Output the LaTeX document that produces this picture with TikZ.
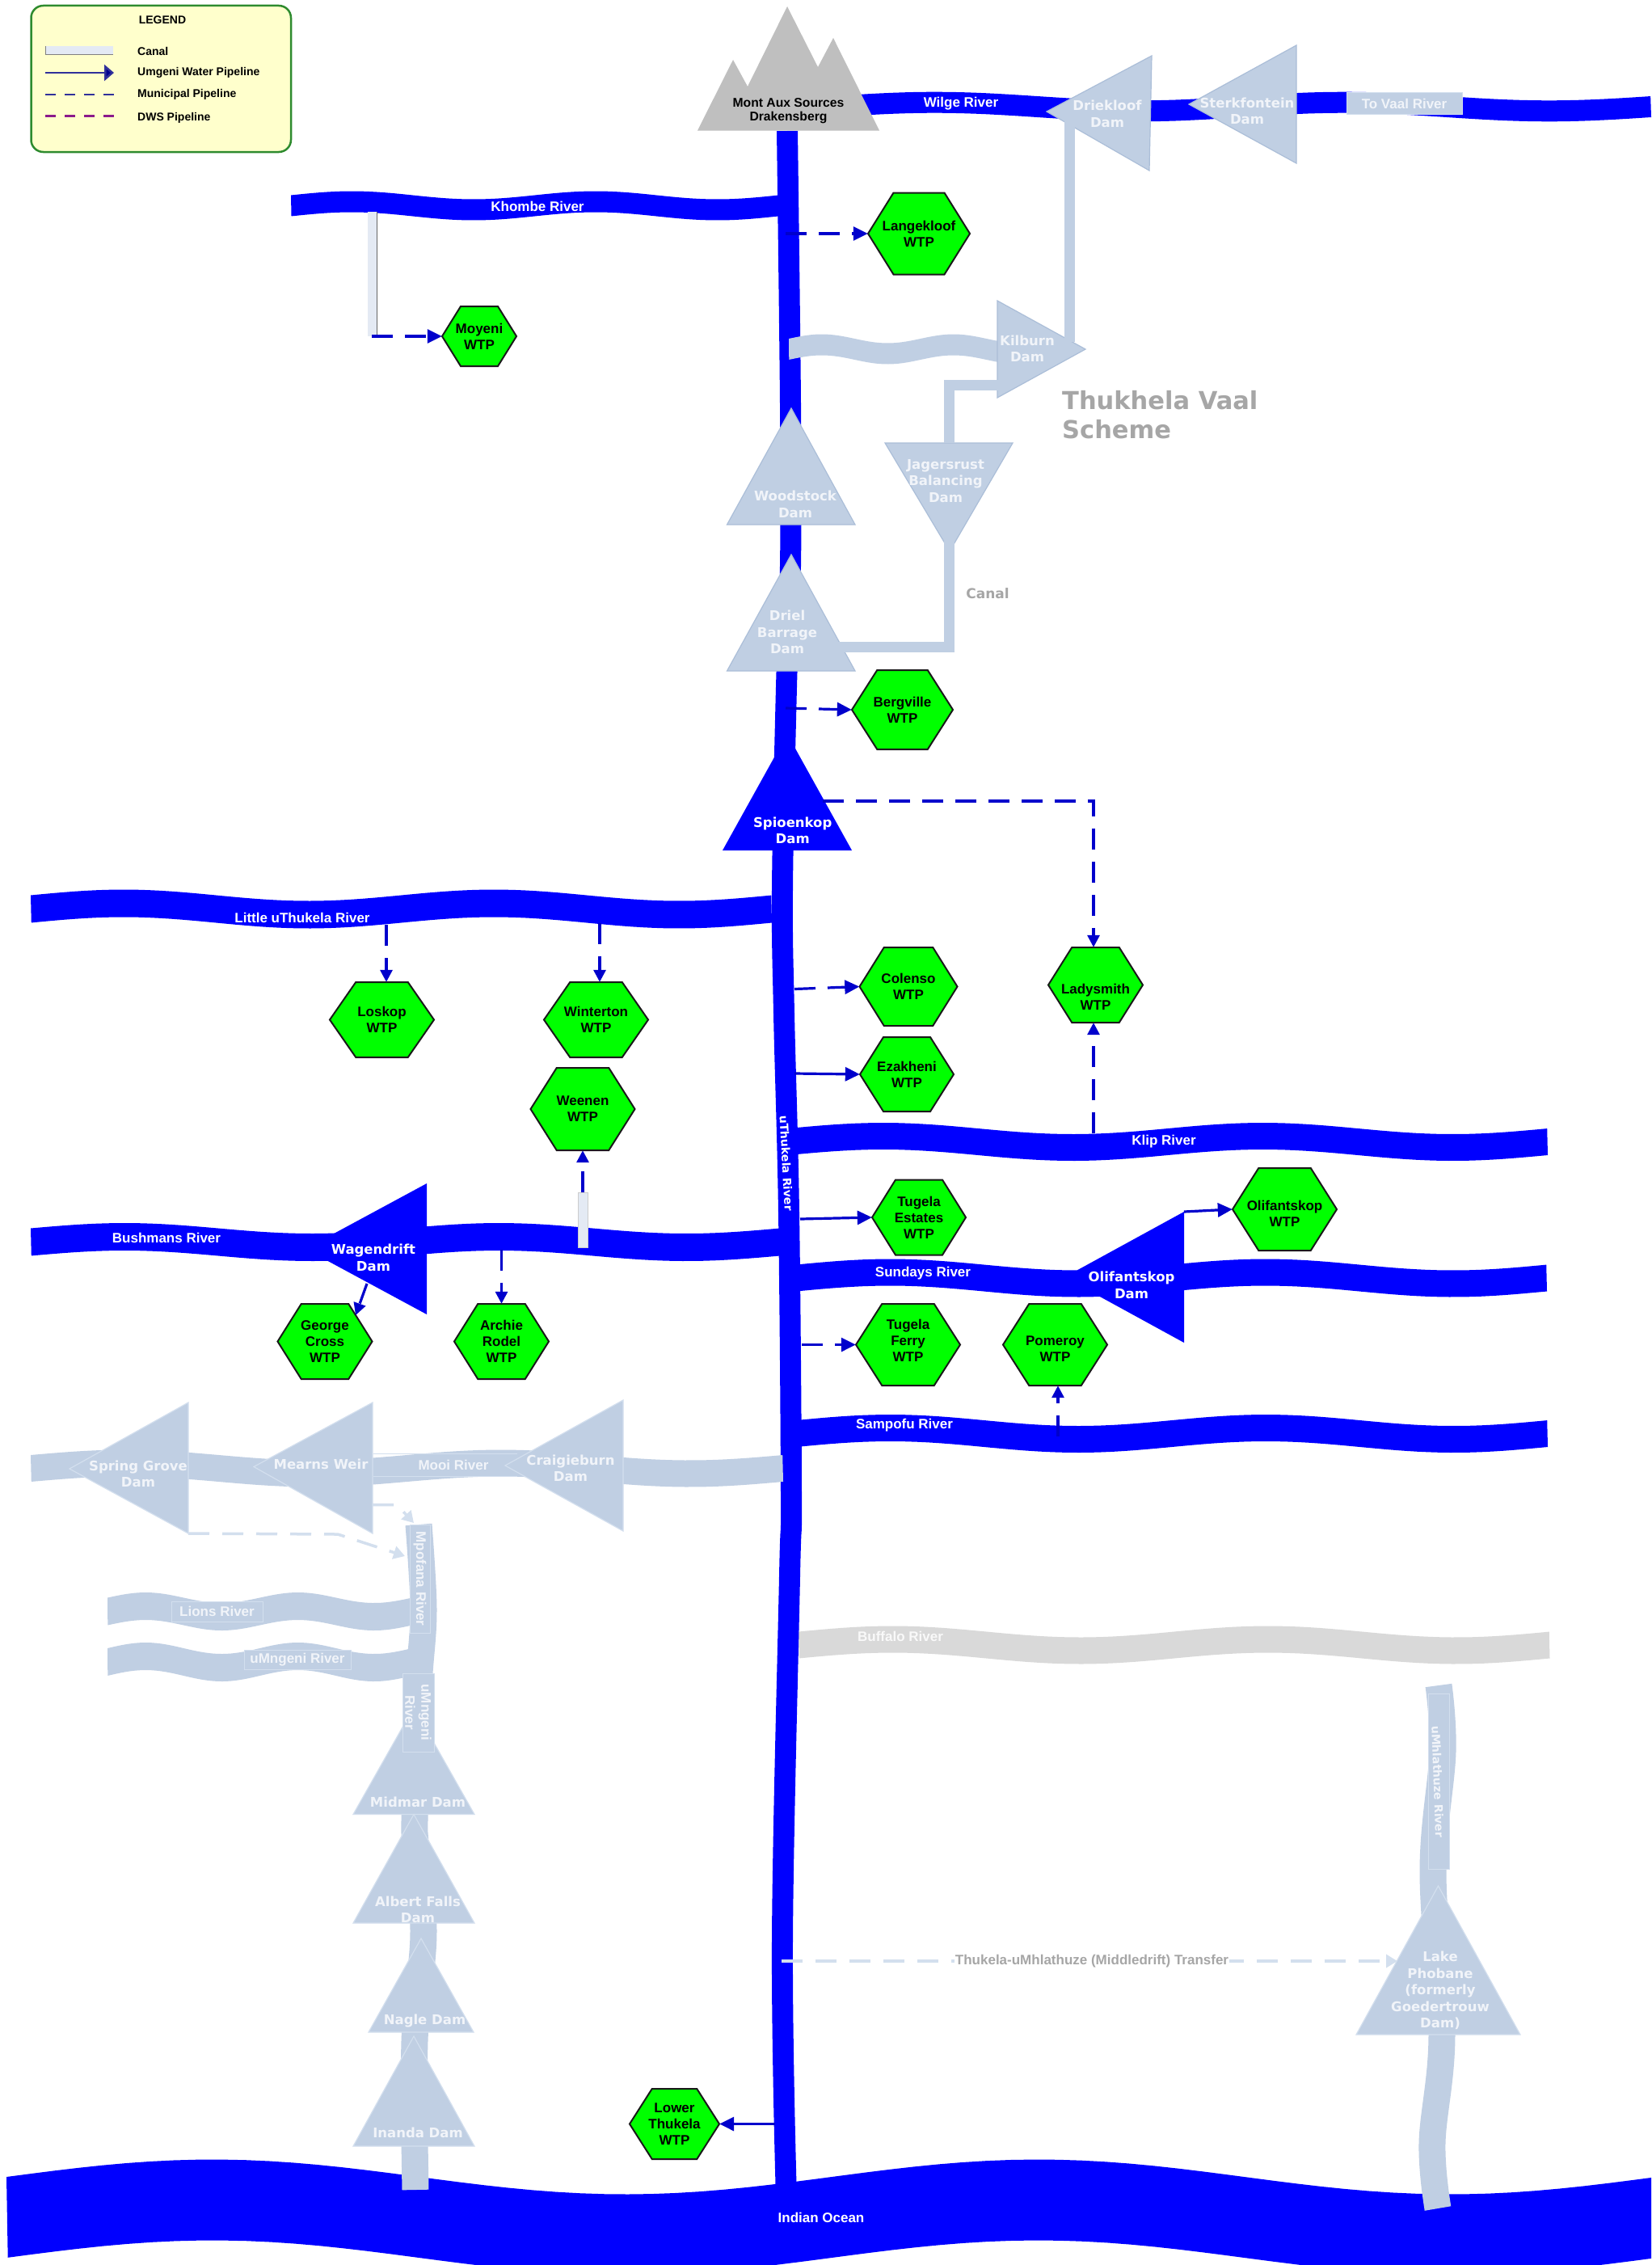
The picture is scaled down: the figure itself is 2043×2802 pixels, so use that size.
\documentclass[tikz,border=0pt]{standalone}
\usepackage{fontspec}
\setmainfont{Liberation Sans}
\newfontfamily\damfont{DejaVu Sans}
\usetikzlibrary{arrows.meta}
\definecolor{riverblue}{HTML}{0000FF}
\definecolor{faded}{HTML}{C0CFE3}
\definecolor{fadededge}{HTML}{ABBED8}
\definecolor{fadedline}{HTML}{D3DFEE}
\definecolor{fadedtext}{HTML}{F1F4F9}
\definecolor{pipeblue}{HTML}{0000CC}
\definecolor{hexgreen}{HTML}{00FF00}
\definecolor{mtgray}{HTML}{BFBFBF}
\definecolor{labelgray}{HTML}{A6A6A6}
\definecolor{buffalo}{HTML}{D9D9D9}
\definecolor{canalfill}{HTML}{E4EAF4}
\definecolor{legendfill}{HTML}{FFFFCC}
\definecolor{legendedge}{HTML}{2E8B2E}
\definecolor{legendline}{HTML}{30309A}
\definecolor{dwsline}{HTML}{8B1A8B}
\tikzset{
  solidpipe/.style={draw=pipeblue,line width=3.2pt,-{Triangle[length=18pt,width=17pt]}},
  dashpipe/.style={solidpipe,dash pattern=on 26pt off 15pt},
  vtip/.style={-{Triangle[length=15pt,width=15pt]}},
  fadedpipe/.style={draw=fadedline,fill=none,line width=3.5pt,dash pattern=on 26pt off 16pt,-{Triangle[length=14pt,width=16pt]}},
  hexshape/.style={draw=black!90,line width=2pt,fill=hexgreen,line join=miter},
  hextext/.style={inner sep=0pt,align=center,text=black,font=\fontsize{17}{20}\selectfont\bfseries},
  damshape/.style={fill=faded,draw=fadededge,line width=1.2pt,line join=miter},
  damlight/.style={fill=faded,draw=fadedline,line width=1.2pt,line join=miter},
  blueshape/.style={fill=riverblue},
  damtext/.style={inner sep=0pt,align=center,text=fadedtext,font=\damfont\fontsize{16.5}{20.5}\selectfont\bfseries},
  bluedamtext/.style={inner sep=0pt,align=center,text=white,font=\damfont\fontsize{16.5}{20.5}\selectfont\bfseries},
  rivertext/.style={inner sep=0pt,align=center,text=white,font=\fontsize{17}{19}\selectfont\bfseries},
  fadedlabel/.style={inner sep=0pt,align=center,text=fadedtext,font=\fontsize{17}{20}\selectfont\bfseries},
  boxlabel/.style={draw=fadedline,line width=1pt,fill=faded,inner sep=0pt,align=center,text=fadedtext,font=\fontsize{17}{20}\selectfont\bfseries},
  canalline/.style={draw=faded,line width=13pt,line join=miter},
  legendtext/.style={inner sep=0pt,anchor=west,text=black,font=\fontsize{14}{15}\selectfont\bfseries},
  graytext/.style={inner sep=0pt,text=labelgray,font=\bfseries},
}
\newcommand{\wavyriver}[6]{%
  \fill[#6] plot[domain=0:1,samples=70,variable=\t] ({#1+(#2-#1)*\t},{#3-#4*sin(720*\t)-#5/2})
    -- plot[domain=1:0,samples=70,variable=\t] ({#1+(#2-#1)*\t},{#3-#4*sin(720*\t)+#5/2}) -- cycle;}
% optional first argument: vertical offset of the text inside the hexagon
\newcommand{\hexnode}[7][0]{%
  \draw[hexshape] ({#3-#5/2},#4) -- ({#3-#5/4},{#4-#6/2}) -- ({#3+#5/4},{#4-#6/2})
    -- ({#3+#5/2},#4) -- ({#3+#5/4},{#4+#6/2}) -- ({#3-#5/4},{#4+#6/2}) -- cycle;
  \node[minimum width=#5pt,minimum height=#6pt,inner sep=0pt] (#2) at (#3,#4) {};
  \node[hextext] (#2-text) at (#3,{#4+#1}) {#7};}
\begin{document}
\begin{tikzpicture}[x=1pt,y=-1pt]
\clip (0,0) rectangle (2043,2802);
\fill[white] (0,0) rectangle (2043,2802);

% ---------- legend
\draw[fill=legendfill,draw=legendedge,line width=2.5pt,rounded corners=15pt] (38.5,7) rectangle (360,188);
\node[inner sep=0pt,font=\fontsize{14}{15}\selectfont\bfseries] (legendtitle) at (201,25) {LEGEND};
\draw[fill=canalfill,draw=none] (56,57) rectangle (140,68);
\draw[gray,line width=1pt] (56,57) -- (56,68) -- (140,68);
\node[legendtext] (lcanal) at (170,63) {Canal};
\coordinate (la1) at (56,90); \coordinate (la2) at (141,90);
\draw[draw=legendline,line width=2.5pt,-{Triangle[length=12pt,width=20pt,fill=pipeblue!70!black]}] (la1) -- (la2);
\node[legendtext] (lumgeni) at (170,90) {Umgeni Water Pipeline};
\coordinate (lb1) at (56,117); \coordinate (lb2) at (141,117);
\draw[draw=legendline,line width=2.5pt,dash pattern=on 13pt off 11pt] (lb1) -- (lb2);
\node[legendtext] (lmuni) at (170,117) {Municipal Pipeline};
\coordinate (lc1) at (56,143.5); \coordinate (lc2) at (141,143.5);
\draw[draw=dwsline,line width=2.5pt,dash pattern=on 13pt off 11pt] (lc1) -- (lc2);
\node[legendtext] (ldws) at (170,146) {DWS Pipeline};

% ---------- ocean
\wavyriver{8}{2050}{2743}{21.5}{100}{riverblue}

% ---------- blue rivers
\wavyriver{360}{963}{254.5}{5}{26}{riverblue}
\wavyriver{1030}{2043}{132}{5.3}{26}{riverblue}
\wavyriver{38}{955}{1124.5}{7}{34}{riverblue}
\wavyriver{38}{965}{1536.5}{6.5}{34}{riverblue}
\wavyriver{975}{1915}{1412.5}{7}{33}{riverblue}
\wavyriver{985}{1914}{1581}{7}{33}{riverblue}
\wavyriver{985}{1915}{1773.5}{7}{33}{riverblue}
\wavyriver{988}{1917.5}{2035}{7}{33}{buffalo}

% ---------- uThukela
\draw[riverblue,line width=26pt] plot[smooth,tension=0.6] coordinates {(974,162) (978,500) (978,700) (973,850) (968,1100) (970,1254) (976,1500) (979,1850) (977,1950) (968,2400) (973,2720)};

% ---------- faded rivers
\wavyriver{976}{1302}{432}{5.5}{26}{faded}
\wavyriver{38}{969}{1816.5}{6.5}{33}{faded}
\wavyriver{133}{510}{1993.5}{6.5}{34}{faded}
\wavyriver{133}{510}{2056}{7}{34}{faded}
\draw[faded,line width=33pt] plot[smooth,tension=0.6] coordinates {(518,1886) (524,1990) (519,2070) (514,2150) (513,2250) (514,2280) (524,2390) (513,2525) (514,2709)};
\draw[faded,line width=33pt] plot[smooth,tension=0.6] coordinates {(1780,2085) (1785,2167) (1773,2314) (1784,2517) (1772,2651) (1779,2732)};

% ---------- white canal stubs
\draw[fill=canalfill,draw=none] (455,262) rectangle (466,416);
\draw[gray!80!black,line width=1pt] (466,262) -- (466,416);
\draw[fill=canalfill,draw=gray!40,line width=0.8pt] (715.5,1475) rectangle (727,1543);

% ---------- mountain
\fill[mtgray] (863,161.5) -- (907,74) -- (925,107) -- (974,8) -- (1012,83) -- (1031,47) -- (1088,161.5) -- cycle;
\node[inner sep=0pt,align=center,font=\fontsize{15.7}{17}\selectfont\bfseries] (mont) at (975.5,137) {Mont Aux Sources\\Drakensberg};

% ---------- faded dams
\draw[damshape] (1425,69) -- (1422,211) -- (1295,138) -- cycle;
\draw[damshape] (1604,56) -- (1604,202) -- (1471,129) -- cycle;
\draw[damshape] (1234,372) -- (1343,432) -- (1234,492) -- cycle;
\draw[damshape] (979,505) -- (899.5,649) -- (1058,649) -- cycle;
\draw[damshape] (1095,548) -- (1253,548) -- (1175,682) -- cycle;
\draw[damshape] (979,686) -- (899.5,830) -- (1058,830) -- cycle;

% ---------- Thukela-Vaal canals
\coordinate (c1a) at (1014,800); \coordinate (c1b) at (1174.5,800); \coordinate (c1c) at (1174.5,664);
\draw[canalline] (c1a) -- (c1b) -- (c1c);
\coordinate (c2a) at (1174.5,548); \coordinate (c2b) at (1174.5,476.5); \coordinate (c2c) at (1236,476.5);
\draw[canalline] (c2a) -- (c2b) -- (c2c);
\coordinate (c3a) at (1323,423); \coordinate (c3b) at (1323,149);
\draw[canalline] (c3a) -- (c3b);

\node[damtext] (driekloof) at (1370,141) {Driekloof\\Dam};
\node[damtext] (sterkfontein) at (1543,137.5) {Sterkfontein\\Dam};
\node[boxlabel,minimum width=143pt,minimum height=27pt] (tovaal) at (1737.5,128.5) {To Vaal River};
\node[damtext] (kilburn) at (1271,431.5) {Kilburn\\Dam};
\node[damtext] (woodstock) at (984,624) {Woodstock\\Dam};
\node[damtext] (jagersrust) at (1170,595) {Jagersrust\\Balancing\\Dam};
\node[damtext] (driel) at (974,782) {Driel\\Barrage\\Dam};

\draw[damlight] (233,1735) -- (233,1897) -- (86,1817) -- cycle;
\node[damtext] (springgrove) at (171,1823.5) {Spring Grove\\Dam};
\draw[damlight] (461,1735) -- (461,1897) -- (314,1814.5) -- cycle;
\node[damtext] (mearns) at (397,1811) {Mearns Weir};
\draw[damlight] (771,1732) -- (771,1894) -- (625,1813) -- cycle;
\node[damtext] (craigieburn) at (706,1816.5) {Craigieburn\\Dam};
\node[fadedlabel] (mooi) at (561,1812) {Mooi River};
\draw[fadedline,line width=0.8pt] (462,1798) -- (640,1798) (462,1826) -- (640,1826);

\draw[damlight] (512,2112) -- (437,2244.5) -- (587,2244.5) -- cycle;
\node[damtext] (midmar) at (517,2229) {Midmar Dam};
\draw[damlight] (512,2244.5) -- (437,2379) -- (587,2379) -- cycle;
\node[damtext] (albert) at (517,2362.5) {Albert Falls\\Dam};
\draw[damlight] (521,2398) -- (456,2514) -- (586,2514) -- cycle;
\node[damtext] (nagle) at (525.5,2500) {Nagle Dam};
\draw[damlight] (512,2519) -- (437,2655) -- (587,2655) -- cycle;
\node[damtext] (inanda) at (517,2638.5) {Inanda Dam};
\draw[damlight] (1779.5,2333) -- (1678,2517) -- (1881,2517) -- cycle;
\node[damtext] (phobane) at (1782,2462.5) {Lake\\Phobane\\(formerly\\Goedertrouw\\Dam)};

% ---------- boxed labels on faded rivers
\node[boxlabel,minimum width=113pt,minimum height=25pt] (lions) at (268.5,1993.5) {Lions River};
\node[boxlabel,minimum width=132pt,minimum height=24pt] (umngeni) at (368,2053) {uMngeni River};
\node[boxlabel,rotate=-90,minimum width=134pt,minimum height=25pt] (mpofana) at (519.5,1953) {Mpofana River};
\node[boxlabel,rotate=-90,minimum width=97pt,minimum height=39pt] (umngenib) at (517.5,2118.5) {uMngeni\\River};
\node[boxlabel,rotate=-90,minimum width=217pt,minimum height=26pt] (umhlathuze) at (1780,2204) {};
\node[fadedlabel,rotate=-88,font=\damfont\fontsize{14}{16}\selectfont\bfseries] (umhlathuzetext) at (1779,2204) {uMhlathuze River};

% ---------- blue dams
\fill[blueshape] (974,908) -- (894,1052) -- (1054,1052) -- cycle;
\node[bluedamtext] (spioenkop) at (980.7,1027.5) {Spioenkop\\Dam};
\fill[blueshape] (528,1464) -- (378,1545) -- (528,1626) -- cycle;
\node[bluedamtext] (wagendrift) at (462,1556) {Wagendrift\\Dam};
\fill[blueshape] (1465,1499) -- (1317,1580) -- (1465,1661) -- cycle;
\node[bluedamtext] (olifantskopdam) at (1400,1590) {Olifantskop\\Dam};

% ---------- river labels
\node[rivertext] (khombe) at (665,255) {Khombe River};
\node[rivertext] (wilge) at (1189,128) {Wilge River};
\node[rivertext] (little) at (374,1135) {Little uThukela River};
\node[rivertext] (bushmans) at (206,1531) {Bushmans River};
\node[rivertext] (klip) at (1440,1412) {Klip River};
\node[rivertext] (sundays) at (1142,1575.5) {Sundays River};
\node[rivertext] (sampofu) at (1119,1763) {Sampofu River};
\node[rivertext,text=white!95!gray] (buffalolabel) at (1114,2024.5) {Buffalo River};
\node[rivertext] (ocean) at (1016,2743) {Indian Ocean};
\node[rivertext,rotate=-87,font=\damfont\fontsize{14}{16}\selectfont\bfseries] (uthukela) at (973,1439) {uThukela River};

% ---------- gray labels
\node[graytext,anchor=west,align=left,font=\damfont\fontsize{30.5}{36}\selectfont\bfseries] (scheme) at (1314,513) {Thukhela Vaal\\Scheme};
\node[graytext,font=\damfont\fontsize{17}{19}\selectfont\bfseries] (canallabel) at (1222,734) {Canal};

% ---------- WTPs
\hexnode{moyeni}{593}{416}{92}{74}{Moyeni\\WTP}
\hexnode{langekloof}{1137}{289}{126}{101}{Langekloof\\WTP}
\hexnode{bergville}{1116.5}{878}{125}{98}{Bergville\\WTP}
\hexnode{loskop}{472.5}{1261.5}{129}{93}{Loskop\\WTP}
\hexnode{winterton}{737.5}{1261.5}{129}{93}{Winterton\\WTP}
\hexnode{weenen}{721}{1372}{129}{102}{Weenen\\WTP}
\hexnode{george}{402}{1659.5}{117}{93}{George\\Cross\\WTP}
\hexnode{archie}{620.5}{1659.5}{117}{93}{Archie\\Rodel\\WTP}
\hexnode{colenso}{1124}{1220.5}{121}{97}{Colenso\\WTP}
\hexnode{ezakheni}{1122}{1329}{116}{92}{Ezakheni\\WTP}
\hexnode[15]{ladysmith}{1355.5}{1218.5}{117}{93}{Ladysmith\\WTP}
\hexnode{estates}{1137}{1506}{116}{93}{Tugela\\Estates\\WTP}
\hexnode[5]{olifantskop}{1589.5}{1496}{129}{102}{Olifantskop\\WTP}
\hexnode[-5]{ferry}{1123.5}{1663.5}{129}{101}{Tugela\\Ferry\\WTP}
\hexnode[5]{pomeroy}{1305.5}{1663.5}{129}{101}{Pomeroy\\WTP}
\hexnode{lower}{834.5}{2627.5}{111}{87}{Lower\\Thukela\\WTP}

% ---------- pipelines
\coordinate (pmoyeni) at (460,416);
\draw[dashpipe] (pmoyeni) -- (moyeni.west);
\coordinate (plange) at (972,289);
\draw[dashpipe] (plange) -- (langekloof.west);
\coordinate (pberg) at (972,876);
\draw[dashpipe] (pberg) -- (bergville.west);
\coordinate (pspi) at (1018,991); \coordinate (pspic) at (1353,991);
\draw[dashpipe,vtip] (pspi) -- (pspic) -- (pspic |- ladysmith.north);
\coordinate (ploskop) at (478,1144);
\draw[dashpipe,vtip] (ploskop) -- (ploskop |- loskop.north);
\coordinate (pwint) at (742,1141.5);
\draw[dashpipe,vtip] (pwint) -- (pwint |- winterton.north);
\coordinate (pween) at (721,1475);
\draw[dashpipe,vtip] (pween) -- (weenen.south);
\coordinate (parchie) at (620.5,1545.6);
\draw[dashpipe,vtip] (parchie) -- (archie.north);
\coordinate (pgeorge) at (454,1588); \coordinate (pgeorgeb) at (440,1627);
\draw[dashpipe,vtip] (pgeorge) -- (pgeorgeb);
\coordinate (pcol) at (983,1223.5);
\draw[dashpipe] (pcol) -- (colenso.west);
\coordinate (pezak) at (983,1328);
\draw[solidpipe] (pezak) -- (ezakheni.west);
\coordinate (plady) at (1353,1402);
\draw[dashpipe,vtip] (plady) -- (plady |- ladysmith.south);
\coordinate (pest) at (990,1508);
\draw[solidpipe] (pest) -- (estates.west);
\coordinate (poli) at (1465,1499);
\draw[solidpipe] (poli) -- (olifantskop.west);
\coordinate (pfer) at (992,1663.5);
\draw[dashpipe] (pfer) -- (ferry.west);
\coordinate (ppom) at (1309,1777);
\draw[dashpipe,vtip] (ppom) -- (ppom |- pomeroy.south);
\coordinate (plow) at (958.5,2627.5);
\draw[solidpipe] (plow) -- (lower.east);

% ---------- faded pipelines
\coordinate (fa1) at (233,1897); \coordinate (fa2) at (418,1898); \coordinate (fa3) at (501,1925);
\draw[fadedpipe] (fa1) -- (fa2) -- (fa3);
\coordinate (fb1) at (461,1861.5); \coordinate (fb2) at (491,1861.5); \coordinate (fb3) at (512,1884);
\draw[fadedpipe] (fb1) -- (fb2) -- (fb3);
\coordinate (ft1) at (967,2426); \coordinate (ft2) at (1729,2426);
\draw[fadedpipe] (ft1) -- (ft2);
\node[inner sep=1pt,fill=white,text=labelgray,font=\fontsize{17}{19}\selectfont\bfseries] (transfer) at (1351,2426) {Thukela-uMhlathuze (Middledrift) Transfer};
\end{tikzpicture}
\end{document}
